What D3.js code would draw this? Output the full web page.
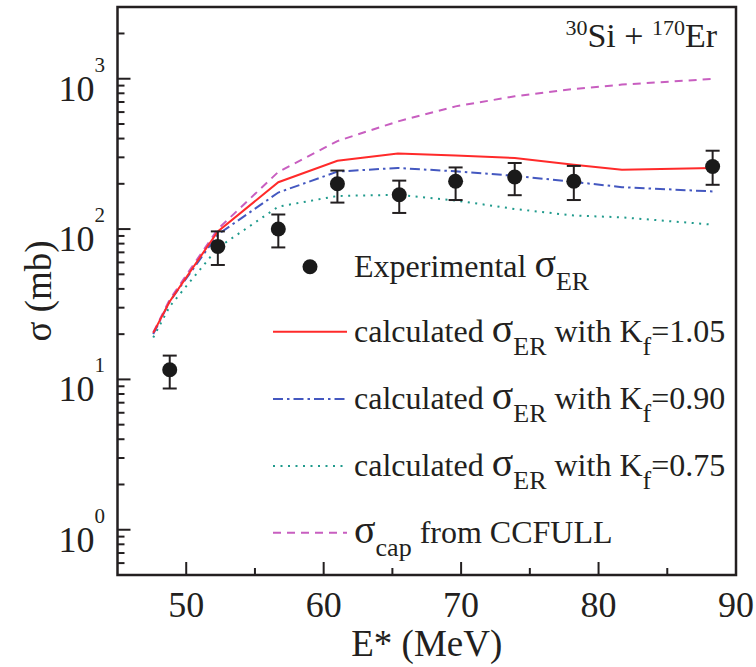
<!DOCTYPE html>
<html><head><meta charset="utf-8">
<script src="https://cdn.jsdelivr.net/npm/d3@7"></script>
<style>body{margin:0;background:#fff}svg{display:block}text{font-family:"Liberation Serif","Times New Roman",serif;fill:#231f20}</style>
</head><body><svg id="c" width="756" height="667"></svg>
<script>
// Experimental data
const expE = [48.8, 52.3, 56.7, 61.0, 65.5, 69.6, 73.9, 78.2, 88.3];
const expSigma = [11.6, 76.7, 100, 200, 169, 208, 222, 208, 261];
const expLow = [8.7, 57.7, 75.5, 150, 128, 156, 168, 156, 197];
const expHigh = [14.4, 96.5, 125, 245, 210, 257, 275, 263, 332];
// Calculated curves
const calcE = [47.6, 48.8, 52.3, 56.7, 61.0, 65.4, 69.6, 73.9, 78.2, 81.7, 88.3];
const kf105 = [20.4, 33, 96.5, 205, 285, 318, 308, 297, 268, 248, 255];
const kf090 = [20.0, 33, 92, 175, 241, 255, 242, 226, 206, 190, 178];
const kf075 = [19.0, 30.6, 75, 141, 166, 169, 155, 136, 123, 119.7, 107];
const capCC = [20.5, 34, 100, 240, 385, 520, 655, 764, 855, 914, 997];
const xTicks = [50, 60, 70, 80, 90];
const xMinor = [55, 65, 75, 85];
const yMajor = [1, 10, 100, 1000];
const yExp = ["0", "1", "2", "3"];

const FF = "Liberation Serif, Times New Roman, serif";
const svg = d3.select("#c");
const L = 117.5, R = 736, T = 7, B = 575;
const x = d3.scaleLinear().domain([45, 90]).range([L, R]);
const y = d3.scaleLog().domain([0.5, 3000]).range([B, T]);
const ink = "#231f20";

// minor y ticks
const yMinor = [];
[0.1, 1, 10, 100, 1000].forEach(d => { for (let k = 2; k <= 9; k++) { const v = d * k; if (v >= 0.5 && v <= 3000 && yMajor.indexOf(v) < 0) yMinor.push(v); } });

const g = svg.append("g");
g.selectAll(".ymaj").data(yMajor).join("line")
  .attr("x1", L).attr("x2", L + 13).attr("y1", d => y(d)).attr("y2", d => y(d))
  .attr("stroke", ink).attr("stroke-width", 2);
g.selectAll(".ymin").data(yMinor).join("line")
  .attr("x1", L).attr("x2", L + 7).attr("y1", d => y(d)).attr("y2", d => y(d))
  .attr("stroke", ink).attr("stroke-width", 2);
g.selectAll(".xmaj").data(xTicks).join("line")
  .attr("x1", d => x(d)).attr("x2", d => x(d)).attr("y1", B).attr("y2", B - 13)
  .attr("stroke", ink).attr("stroke-width", 2);
g.selectAll(".xmin").data(xMinor).join("line")
  .attr("x1", d => x(d)).attr("x2", d => x(d)).attr("y1", B).attr("y2", B - 7)
  .attr("stroke", ink).attr("stroke-width", 2);

// tick labels
g.selectAll(".xl").data(xTicks).join("text")
  .attr("font-family", FF)
  .attr("x", d => x(d)).attr("y", B + 42).attr("text-anchor", "middle")
  .attr("font-size", 36).text(d => d);
const yl = g.selectAll(".yl").data(yMajor).join("text")
  .attr("font-family", FF)
  .attr("x", 105).attr("y", d => y(d) + 22).attr("text-anchor", "end");
yl.append("tspan").attr("font-size", 36).text("10");
yl.append("tspan").attr("font-size", 21).attr("dy", -29).text((d, i) => yExp[i]);

// axis titles
svg.append("text").attr("font-family", FF).attr("x", (L + R) / 2).attr("y", 656).attr("text-anchor", "middle")
  .attr("font-size", 37).text("E* (MeV)");
svg.append("text").attr("font-family", FF).attr("transform", `translate(51,${(T + B) / 2}) rotate(-90)`).attr("text-anchor", "middle")
  .attr("font-size", 37).text("σ (mb)");

// curves
const line = d3.line().x(d => x(d[0])).y(d => y(d[1]));
const series = [
  {v: capCC, c: "#c85ec0", dash: "8,6"},
  {v: kf075, c: "#1f9a8c", dash: "2,5.5"},
  {v: kf090, c: "#4458c0", dash: "10,4,2.5,4"},
  {v: kf105, c: "#ff2a2a", dash: null}
];
series.forEach(s => {
  svg.append("path").datum(calcE.map((e, i) => [e, s.v[i]]))
    .attr("d", line).attr("fill", "none").attr("stroke", s.c).attr("stroke-width", 2)
    .attr("stroke-dasharray", s.dash);
});

// experimental points
const pts = svg.append("g");
expE.forEach((e, i) => {
  const px = x(e);
  pts.append("line").attr("x1", px).attr("x2", px).attr("y1", y(expLow[i])).attr("y2", y(expHigh[i])).attr("stroke", ink).attr("stroke-width", 2);
  [expLow[i], expHigh[i]].forEach(v => pts.append("line").attr("x1", px - 7).attr("x2", px + 7).attr("y1", y(v)).attr("y2", y(v)).attr("stroke", ink).attr("stroke-width", 2));
  pts.append("circle").attr("cx", px).attr("cy", y(expSigma[i])).attr("r", 7.5).attr("fill", "#1a1a1a");
});

// frame
svg.append("rect").attr("x", L).attr("y", T).attr("width", R - L).attr("height", B - T)
  .attr("fill", "none").attr("stroke", ink).attr("stroke-width", 2.5);

// reaction label
const rl = svg.append("text").attr("font-family", FF).attr("x", 717).attr("y", 47).attr("text-anchor", "end").attr("font-size", 34);
rl.append("tspan").attr("font-size", 22).attr("dy", -12).text("30");
rl.append("tspan").attr("dy", 12).text("Si + ");
rl.append("tspan").attr("font-size", 22).attr("dy", -12).text("170");
rl.append("tspan").attr("dy", 12).text("Er");

// legend
const legY = [266.7, 331.7, 399, 466, 532.7];
const lg = svg.append("g");
lg.append("circle").attr("cx", 310).attr("cy", legY[0]).attr("r", 7.5).attr("fill", "#1a1a1a");
[series[3], series[2], series[1], series[0]].forEach((s, i) => {
  lg.append("line").attr("x1", 273).attr("x2", 347).attr("y1", legY[i + 1]).attr("y2", legY[i + 1])
    .attr("stroke", s.c).attr("stroke-width", 2).attr("stroke-dasharray", s.dash);
});
function legText(yy, parts) {
  const t = lg.append("text").attr("font-family", FF).attr("x", 354).attr("y", yy + 10).attr("font-size", 32);
  parts.forEach(p => {
    const ts = t.append("tspan").text(p.t);
    if (p.fs) ts.attr("font-size", p.fs);
    if (p.dy) ts.attr("dy", p.dy);
    if (p.dx) ts.attr("dx", p.dx);
  });
}
const sig = (sub) => [{t: "σ", fs: 40}, {t: sub, fs: 26, dy: 13}];
legText(legY[0], [{t: "Experimental "}, ...sig("ER")]);
["1.05", "0.90", "0.75"].forEach((k, i) => {
  legText(legY[i + 1], [{t: "calculated "}, ...sig("ER"), {t: " with K", dy: -13}, {t: "f", fs: 26, dy: 13}, {t: "=" + k, dy: -13}]);
});
legText(legY[4], [...sig("cap"), {t: " from CCFULL", dy: -13}]);
</script></body></html>
